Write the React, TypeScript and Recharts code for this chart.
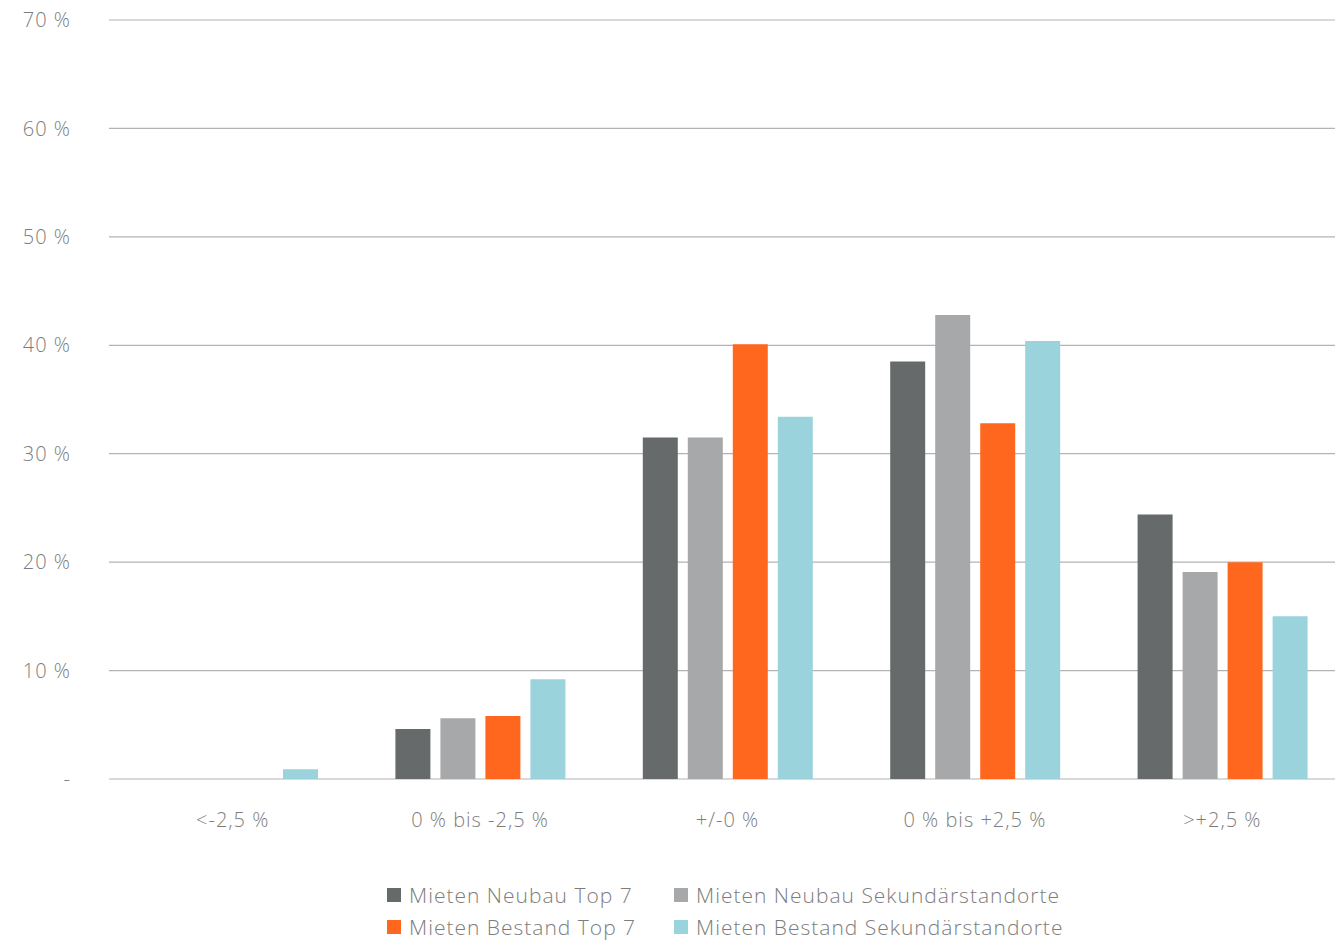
import { BarChart, Bar, XAxis, YAxis, CartesianGrid } from 'recharts';

const categories = ['<-2,5 %', '0 % bis -2,5 %', '+/-0 %', '0 % bis +2,5 %', '>+2,5 %'];
const neubauTop7 = [0, 4.6, 31.5, 38.5, 24.4];
const neubauSekundaer = [0, 5.6, 31.5, 42.8, 19.1];
const bestandTop7 = [0, 5.8, 40.1, 32.8, 20.0];
const bestandSekundaer = [0.9, 9.2, 33.4, 40.4, 15.0];
const yTicks = [0, 10, 20, 30, 40, 50, 60, 70];

const series = [
  { key: 'neubauTop7', name: 'Mieten Neubau Top 7', color: '#676a6b' },
  { key: 'neubauSekundaer', name: 'Mieten Neubau Sekundärstandorte', color: '#a7a8aa' },
  { key: 'bestandTop7', name: 'Mieten Bestand Top 7', color: '#ff671f' },
  { key: 'bestandSekundaer', name: 'Mieten Bestand Sekundärstandorte', color: '#9ad3dc' },
];

const data = categories.map((cat, i) => ({
  cat,
  neubauTop7: neubauTop7[i],
  neubauSekundaer: neubauSekundaer[i],
  bestandTop7: bestandTop7[i],
  bestandSekundaer: bestandSekundaer[i],
}));

const textColor = '#7d7d7d';
const font = '"Open Sans", Lato, sans-serif';
const tickStyle = { fill: textColor, fontSize: 20, fontFamily: font, fontWeight: 300, letterSpacing: 1 };

export default function App() {
  return (
    <div style={{ position: 'fixed', left: 0, top: 0, width: 1335, height: 940, overflow: 'hidden', background: '#fff', fontFamily: font }}>
      <BarChart
        width={1346}
        height={940}
        data={data}
        margin={{ top: 20, right: 0, left: 0, bottom: 0 }}
        barSize={35}
        barGap={10}
      >
        <CartesianGrid vertical={false} stroke="#b3b3b3" strokeWidth={1.2} />
        <XAxis
          dataKey="cat"
          height={161}
          axisLine={false}
          tickLine={false}
          tickSize={0}
          tickMargin={34}
          tick={tickStyle}
        />
        <YAxis
          width={109}
          domain={[0, 70]}
          ticks={yTicks}
          interval={0}
          axisLine={false}
          tickLine={false}
          tickSize={0}
          tickMargin={38}
          tickFormatter={(v: number) => (v === 0 ? '-' : `${v} %`)}
          tick={tickStyle}
        />
        {series.map(s => (
          <Bar key={s.key} dataKey={s.key} name={s.name} fill={s.color} isAnimationActive={false} />
        ))}
      </BarChart>

      {/* two-column legend below the axis */}
      <div
        style={{
          position: 'absolute',
          left: 387,
          top: 882,
          display: 'grid',
          gridTemplateColumns: '287px auto',
          rowGap: 6,
          fontSize: 21,
          fontWeight: 300,
          letterSpacing: 1,
          color: textColor,
          lineHeight: '26px',
        }}
      >
        {series.map(s => (
          <div key={s.key} style={{ display: 'flex', alignItems: 'center', whiteSpace: 'nowrap' }}>
            <span style={{ width: 14, height: 14, background: s.color, marginRight: 8, display: 'inline-block' }} />
            {s.name}
          </div>
        ))}
      </div>
    </div>
  );
}
